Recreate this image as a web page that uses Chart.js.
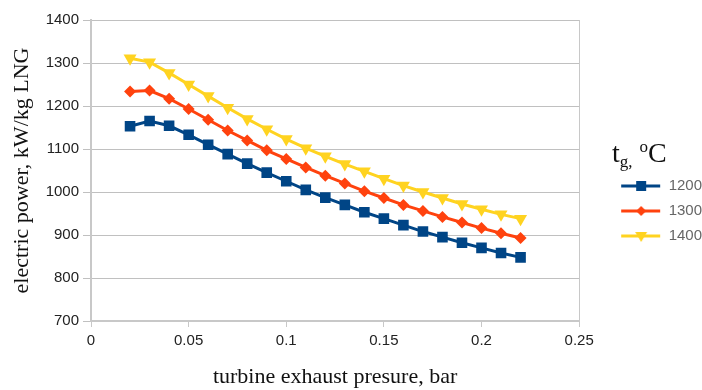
<!DOCTYPE html>
<html>
<head>
<meta charset="utf-8">
<script src="https://cdn.jsdelivr.net/npm/chart.js@4/dist/chart.umd.min.js"></script>
<style>
  html, body { margin: 0; padding: 0; background: #fff; }
  #wrap { position: relative; width: 702px; height: 390px; }
  #legendTitle { position: absolute; left: 612px; top: 137px; font-family: "Liberation Serif", serif; font-size: 28px; color: #111; white-space: nowrap; }
  #legendTitle sub { font-size: 17px; vertical-align: -5px; }
  #legendTitle sup { font-size: 17px; vertical-align: 10px; }
</style>
</head>
<body>
<div id="wrap">
  <canvas id="c" width="702" height="390"></canvas>
  <div id="legendTitle">t<sub>g,</sub> <sup>o</sup>C</div>
</div>
<script>
const pressure = [0.02,0.03,0.04,0.05,0.06,0.07,0.08,0.09,0.10,0.11,0.12,0.13,0.14,0.15,0.16,0.17,0.18,0.19,0.20,0.21,0.22];
const seriesNames = ["1200", "1300", "1400"];
const power1200 = [1153,1165,1154,1133,1110,1088,1066,1045,1025,1005,987,970,953,938,923,908,895,882,870,858,848];
const power1300 = [1234,1236,1217,1193,1168,1143,1120,1097,1077,1057,1038,1020,1002,986,970,956,942,929,916,904,893];
const power1400 = [1311,1302,1277,1250,1223,1196,1170,1146,1123,1102,1083,1065,1048,1031,1015,1000,986,972,960,948,938];
const xTicks = [0, 0.05, 0.1, 0.15, 0.2, 0.25];
const yTicks = [700, 800, 900, 1000, 1100, 1200, 1300, 1400];

const colors = ["#004586", "#ff420e", "#ffd320"];
const styles = ["rect", "rectRot", "triangle"];
const radii = [7.5, 6, 7.5];
const rotations = [0, 0, 180];

function legendIcon(i) {
  const cv = document.createElement('canvas');
  cv.width = 72; cv.height = 16;
  const g = cv.getContext('2d');
  g.strokeStyle = colors[i]; g.lineWidth = 3;
  g.beginPath(); g.moveTo(32, 8); g.lineTo(71, 8); g.stroke();
  g.fillStyle = colors[i];
  const cx = 52, cy = 8;
  g.beginPath();
  if (i === 0) { g.rect(cx - 5, cy - 5, 10, 10); }
  else if (i === 1) { g.moveTo(cx, cy - 5); g.lineTo(cx + 5, cy); g.lineTo(cx, cy + 5); g.lineTo(cx - 5, cy); g.closePath(); }
  else { g.moveTo(cx - 6, cy - 4); g.lineTo(cx + 6, cy - 4); g.lineTo(cx, cy + 6); g.closePath(); }
  g.fill();
  return cv;
}

const allSeries = [power1200, power1300, power1400];
const datasets = allSeries.map((vals, i) => ({
  label: seriesNames[i],
  data: pressure.map((p, k) => ({x: p, y: vals[k]})),
  borderColor: colors[i],
  backgroundColor: colors[i],
  borderWidth: 3,
  pointStyle: styles[i],
  pointRadius: radii[i],
  pointHoverRadius: radii[i],
  pointRotation: rotations[i],
  pointBorderWidth: 0,
  tension: 0
}));

const icons = [0,1,2].map(legendIcon);

new Chart(document.getElementById('c'), {
  type: 'line',
  data: { datasets },
  options: {
    responsive: false,
    animation: false,
    layout: { padding: { left: 1, right: -10, top: 20, bottom: 0 } },
    plugins: {
      tooltip: { enabled: false },
      legend: {
        position: 'right',
        title: { display: true, text: ' ', font: { size: 4, lineHeight: 1 }, padding: { top: 8, bottom: 0 } },
        labels: {
          usePointStyle: true,
          pointStyleWidth: 72,
          boxHeight: 14,
          padding: 10,
          color: '#222',
          font: { family: 'Liberation Sans', size: 15 },
          generateLabels: (chart) => chart.data.datasets.map((ds, i) => ({
            text: ds.label, pointStyle: icons[i], fillStyle: colors[i], strokeStyle: colors[i],
            lineWidth: 0, hidden: false, datasetIndex: i
          }))
        }
      }
    },
    scales: {
      x: {
        type: 'linear',
        min: 0, max: 0.25,
        afterBuildTicks: (s) => { s.ticks = xTicks.map(v => ({value: v})); },
        afterFit: (s) => { s.height = 69; },
        grid: {
          color: (ctx) => (ctx.index === 0 || ctx.index === xTicks.length - 1) ? '#c8c8c8' : 'rgba(0,0,0,0)',
          tickColor: '#c8c8c8',
          tickLength: 6,
          lineWidth: 1
        },
        border: { color: '#c8c8c8', width: 2 },
        ticks: { color: '#222', font: { family: 'Liberation Sans', size: 15 }, padding: 5, maxRotation: 0,
          callback: (v) => String(Number(Number(v).toFixed(2))) },
        title: { display: true, text: 'turbine exhaust presure, bar', color: '#111',
          font: { family: 'Liberation Serif', size: 22 }, padding: { top: 0, bottom: 0 } }
      },
      y: {
        min: 700, max: 1400,
        afterBuildTicks: (s) => { s.ticks = yTicks.map(v => ({value: v})); },
        afterFit: (s) => { s.width = 90; },
        grid: { color: '#c0c0c0', tickColor: '#c0c0c0', tickLength: 8, lineWidth: 1 },
        border: { color: '#c8c8c8', width: 2 },
        ticks: { color: '#222', font: { family: 'Liberation Sans', size: 15 }, padding: 4,
          callback: (v) => String(v) },
        title: { display: true, text: 'electric power, kW/kg LNG', color: '#111',
          font: { family: 'Liberation Serif', size: 22 }, padding: { top: 8, bottom: 0 } }
      }
    }
  }
});
</script>
</body>
</html>
